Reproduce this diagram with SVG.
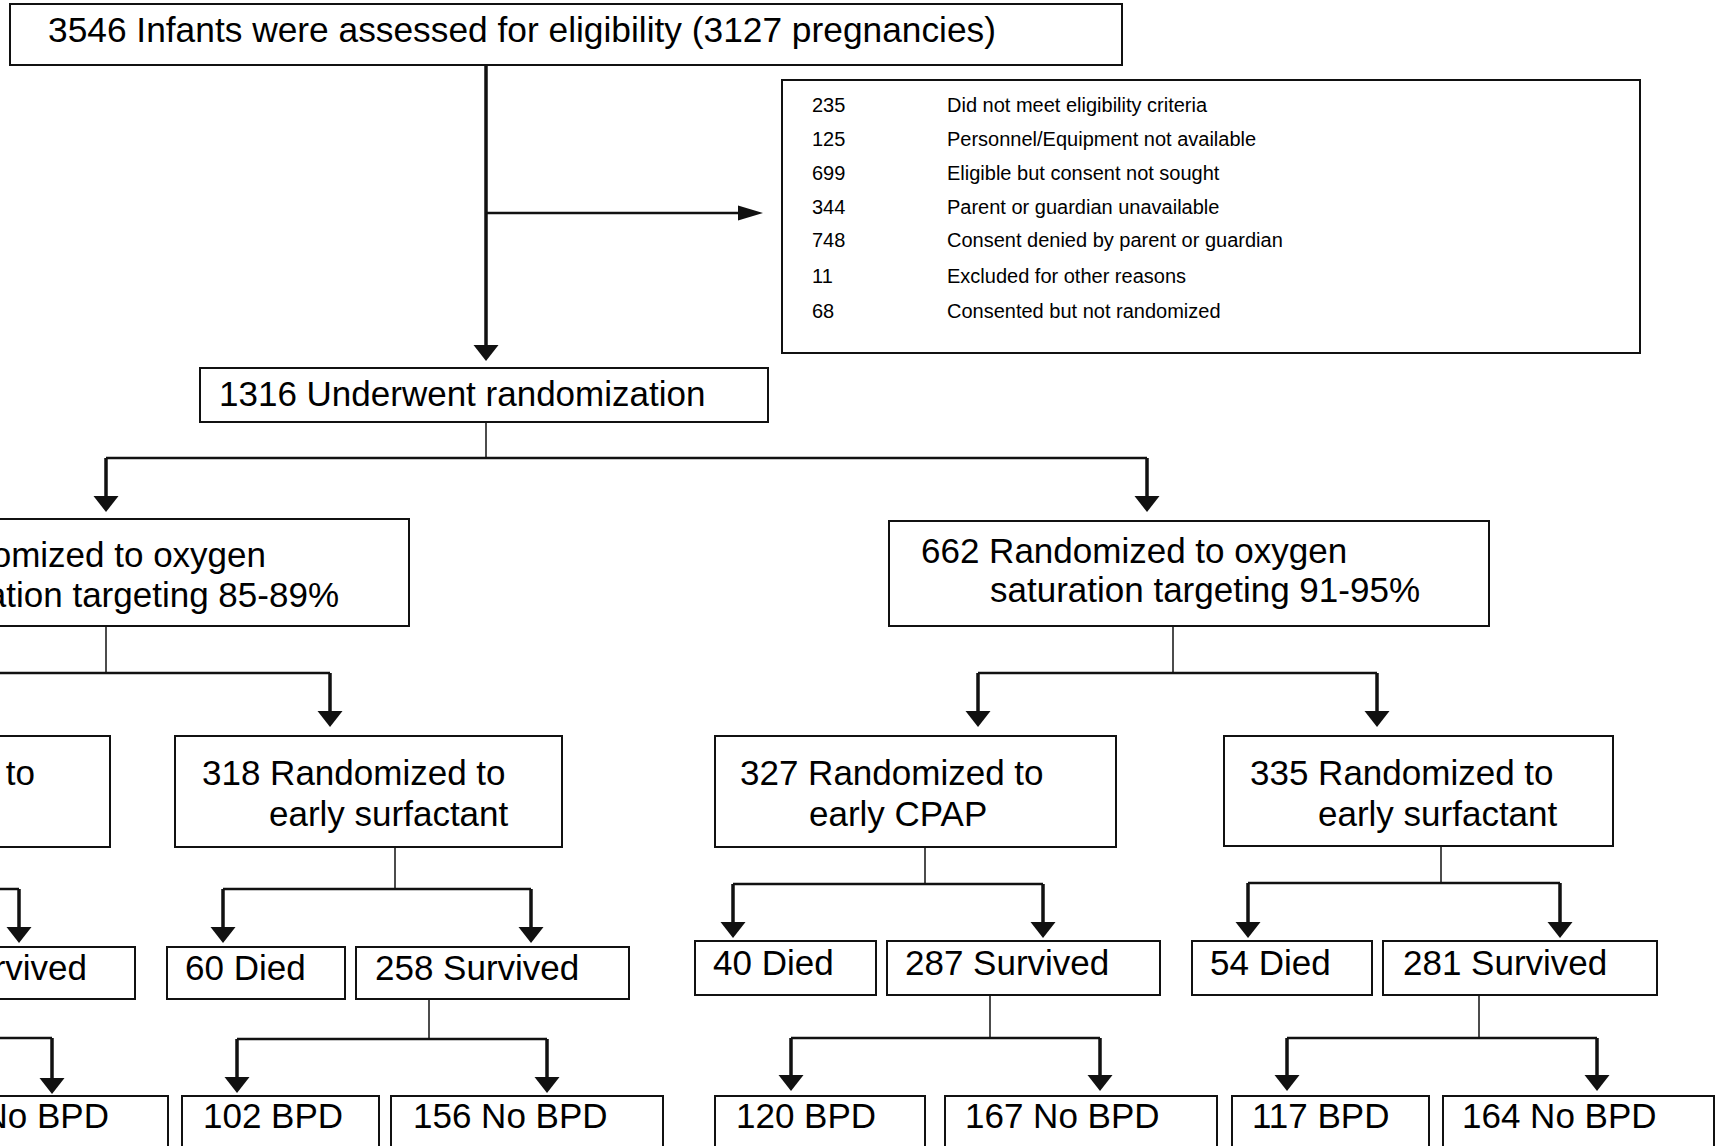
<svg xmlns="http://www.w3.org/2000/svg" width="1720" height="1146" viewBox="0 0 1720 1146">
<style>
.box{fill:#fff;stroke:#111;stroke-width:2}
.t{font-family:"Liberation Sans",Arial,sans-serif;font-size:35px;fill:#000}
.s{font-family:"Liberation Sans",Arial,sans-serif;font-size:20px;fill:#000}
.e{text-anchor:end}
.thin{fill:none;stroke:#111;stroke-width:1.5}
.bar{fill:none;stroke:#111;stroke-width:2.5}
.arr{fill:none;stroke:#111;stroke-width:3.5;marker-end:url(#ah)}
.arrR{fill:none;stroke:#111;stroke-width:2.5;marker-end:url(#ahL)}
</style>
<defs>
<marker id="ah" markerUnits="userSpaceOnUse" viewBox="0 -13 17 26" markerWidth="17" markerHeight="26" refX="7" refY="0" orient="auto">
<path d="M0,-12.5 L16,0 L0,12.5 z" fill="#111"/>
</marker>
<marker id="ahL" markerUnits="userSpaceOnUse" viewBox="0 -8 26 16" markerWidth="26" markerHeight="16" refX="17" refY="0" orient="auto">
<path d="M0,-7.5 L25,0 L0,7.5 z" fill="#111"/>
</marker>
</defs>
<rect width="1720" height="1146" fill="#fff"/>

<g id="connectors">
<path class="arr" d="M486,65 V352"/>
<path class="arrR" d="M486,213 H755"/>
<path class="thin" d="M486,422 V458"/>
<path class="bar" d="M106,458 H1147"/>
<path class="arr" d="M106,458 V503"/>
<path class="arr" d="M1147,458 V503"/>

<path class="thin" d="M106,626 V673"/>
<path class="bar" d="M0,673 H330"/>
<path class="arr" d="M330,673 V718"/>
<path class="thin" d="M1173,626 V673"/>
<path class="bar" d="M978,673 H1377"/>
<path class="arr" d="M978,673 V718"/>
<path class="arr" d="M1377,673 V718"/>

<path class="bar" d="M0,889 H19"/>
<path class="arr" d="M19,889 V934"/>
<path class="thin" d="M395,847 V889"/>
<path class="bar" d="M223,889 H531"/>
<path class="arr" d="M223,889 V934"/>
<path class="arr" d="M531,889 V934"/>
<path class="thin" d="M925,847 V884"/>
<path class="bar" d="M733,884 H1043"/>
<path class="arr" d="M733,884 V929"/>
<path class="arr" d="M1043,884 V929"/>
<path class="thin" d="M1441,846 V883"/>
<path class="bar" d="M1248,883 H1560"/>
<path class="arr" d="M1248,883 V929"/>
<path class="arr" d="M1560,883 V929"/>

<path class="bar" d="M0,1038 H52"/>
<path class="arr" d="M52,1038 V1085"/>
<path class="thin" d="M429,999 V1039"/>
<path class="bar" d="M237,1039 H547"/>
<path class="arr" d="M237,1039 V1084"/>
<path class="arr" d="M547,1039 V1084"/>
<path class="thin" d="M990,995 V1038"/>
<path class="bar" d="M791,1038 H1100"/>
<path class="arr" d="M791,1038 V1082"/>
<path class="arr" d="M1100,1038 V1082"/>
<path class="thin" d="M1479,995 V1038"/>
<path class="bar" d="M1287,1038 H1597"/>
<path class="arr" d="M1287,1038 V1082"/>
<path class="arr" d="M1597,1038 V1082"/>
</g>

<g id="assessed">
<rect class="box" x="10" y="4" width="1112" height="61"/>
<text class="t" x="48" y="42" textLength="948" lengthAdjust="spacingAndGlyphs">3546 Infants were assessed for eligibility (3127 pregnancies)</text>
</g>

<g id="excluded">
<rect class="box" x="782" y="80" width="858" height="273"/>
<text class="s" x="812" y="112">235</text><text class="s" x="947" y="112">Did not meet eligibility criteria</text>
<text class="s" x="812" y="146">125</text><text class="s" x="947" y="146">Personnel/Equipment not available</text>
<text class="s" x="812" y="180">699</text><text class="s" x="947" y="180">Eligible but consent not sought</text>
<text class="s" x="812" y="214">344</text><text class="s" x="947" y="214">Parent or guardian unavailable</text>
<text class="s" x="812" y="247">748</text><text class="s" x="947" y="247">Consent denied by parent or guardian</text>
<text class="s" x="812" y="283">11</text><text class="s" x="947" y="283">Excluded for other reasons</text>
<text class="s" x="812" y="318">68</text><text class="s" x="947" y="318">Consented but not randomized</text>
</g>

<g id="randomized">
<rect class="box" x="200" y="368" width="568" height="54"/>
<text class="t" x="219" y="406">1316 Underwent randomization</text>
</g>

<g id="low-sat">
<rect class="box" x="-10" y="519" width="419" height="107"/>
<text class="t e" x="266" y="567">omized to oxygen</text>
<text class="t e" x="339" y="607">ation targeting 85-89%</text>
</g>

<g id="high-sat">
<rect class="box" x="889" y="521" width="600" height="105"/>
<text class="t" x="921" y="563">662 Randomized to oxygen</text>
<text class="t" x="990" y="602">saturation targeting 91-95%</text>
</g>

<g id="low-cpap">
<rect class="box" x="-10" y="736" width="120" height="111"/>
<text class="t e" x="35" y="785">to</text>
</g>

<g id="low-surf">
<rect class="box" x="175" y="736" width="387" height="111"/>
<text class="t" x="202" y="785">318 Randomized to</text>
<text class="t" x="269" y="826">early surfactant</text>
</g>

<g id="high-cpap">
<rect class="box" x="715" y="736" width="401" height="111"/>
<text class="t" x="740" y="785">327 Randomized to</text>
<text class="t" x="809" y="826">early CPAP</text>
</g>

<g id="high-surf">
<rect class="box" x="1224" y="736" width="389" height="110"/>
<text class="t" x="1250" y="785">335 Randomized to</text>
<text class="t" x="1318" y="826">early surfactant</text>
</g>

<g id="lc-survived"><rect class="box" x="-10" y="947" width="145" height="52"/><text class="t e" x="87" y="980">rvived</text></g>
<g id="ls-died"><rect class="box" x="167" y="947" width="178" height="52"/><text class="t" x="185" y="980">60 Died</text></g>
<g id="ls-survived"><rect class="box" x="356" y="947" width="273" height="52"/><text class="t" x="375" y="980">258 Survived</text></g>
<g id="hc-died"><rect class="box" x="695" y="941" width="181" height="54"/><text class="t" x="713" y="975">40 Died</text></g>
<g id="hc-survived"><rect class="box" x="887" y="941" width="273" height="54"/><text class="t" x="905" y="975">287 Survived</text></g>
<g id="hs-died"><rect class="box" x="1192" y="941" width="180" height="54"/><text class="t" x="1210" y="975">54 Died</text></g>
<g id="hs-survived"><rect class="box" x="1383" y="941" width="274" height="54"/><text class="t" x="1403" y="975">281 Survived</text></g>

<g id="lc-nobpd"><rect class="box" x="-10" y="1096" width="178" height="60"/><text class="t e" x="109" y="1128">No BPD</text></g>
<g id="ls-bpd"><rect class="box" x="182" y="1096" width="197" height="60"/><text class="t" x="203" y="1128">102 BPD</text></g>
<g id="ls-nobpd"><rect class="box" x="391" y="1096" width="272" height="60"/><text class="t" x="413" y="1128">156 No BPD</text></g>
<g id="hc-bpd"><rect class="box" x="715" y="1096" width="210" height="60"/><text class="t" x="736" y="1128">120 BPD</text></g>
<g id="hc-nobpd"><rect class="box" x="945" y="1096" width="272" height="60"/><text class="t" x="965" y="1128">167 No BPD</text></g>
<g id="hs-bpd"><rect class="box" x="1232" y="1096" width="197" height="60"/><text class="t" x="1252" y="1128">117 BPD</text></g>
<g id="hs-nobpd"><rect class="box" x="1443" y="1096" width="271" height="60"/><text class="t" x="1462" y="1128">164 No BPD</text></g>
</svg>
